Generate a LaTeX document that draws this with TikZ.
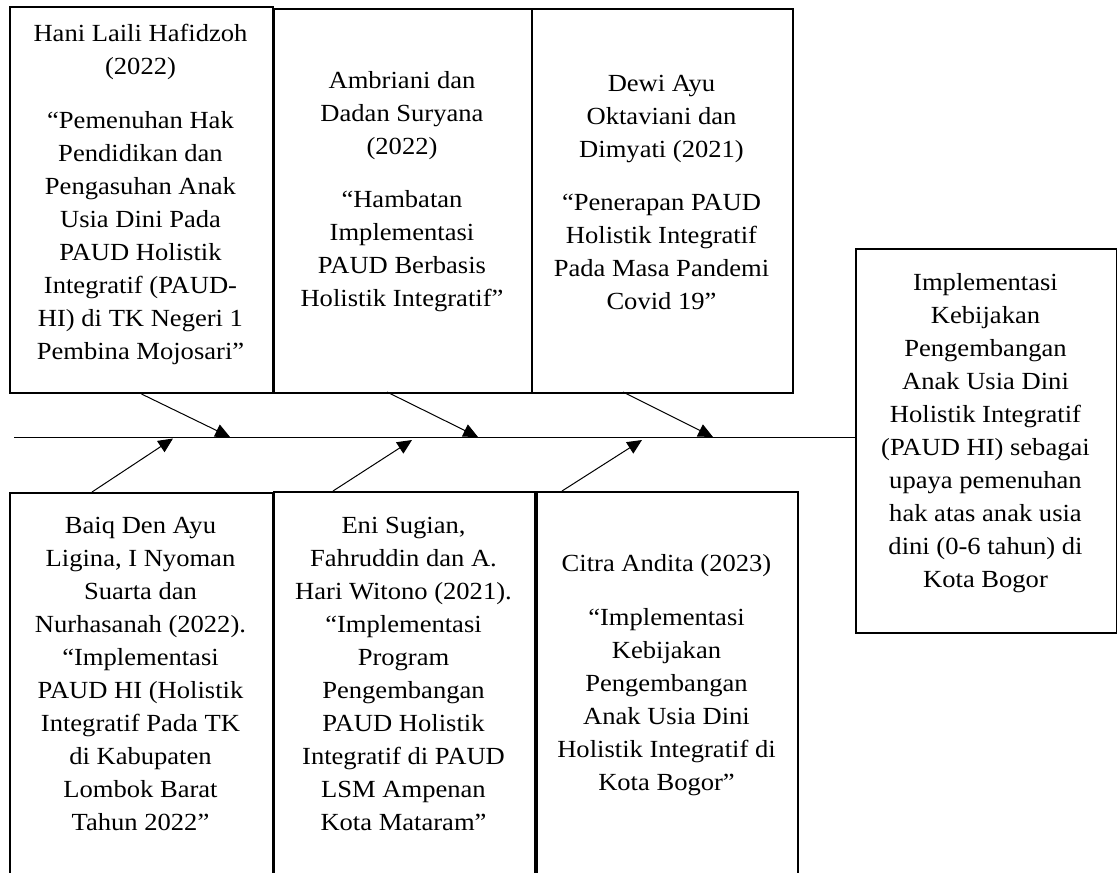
\documentclass[tikz,border=0pt]{standalone}
\usepackage{fontspec}
\setmainfont{Liberation Serif}[FakeStretch=1.08]
\usetikzlibrary{arrows.meta}
\begin{document}
\begin{tikzpicture}[x=0.75pt,y=-0.75pt,
  box/.style={draw,line width=1.5pt,rectangle,inner sep=0pt,anchor=north west},
  txt/.style={align=center,font=\fontsize{18.45pt}{24.75pt}\selectfont,inner sep=0pt},
  conn/.style={line width=0.75pt,-{Triangle[length=11pt,width=10pt]}},
  spine/.style={line width=0.75pt}
]
\useasboundingbox (0,0) rectangle (1117,872);
\clip (0,0) rectangle (1117,872);
% top boxes
\node[box,minimum width=263*0.75pt,minimum height=386*0.75pt] (b1) at (9,6) {};
\node[box,minimum width=258*0.75pt,minimum height=384*0.75pt] (b2) at (273,8) {};
\node[box,minimum width=261*0.75pt,minimum height=384*0.75pt] (b3) at (531,8) {};
% bottom boxes (cut by the page edge)
\node[box,minimum width=263*0.75pt,minimum height=420*0.75pt] (c1) at (9,492) {};
\node[box,minimum width=261*0.75pt,minimum height=420*0.75pt] (c2) at (273,491) {};
\node[box,minimum width=261*0.75pt,minimum height=420*0.75pt] (c3) at (536,491) {};
% result box
\node[box,minimum width=261*0.75pt,minimum height=384*0.75pt] (r) at (855,248) {};
% texts
\node[txt] (t1) at (140.5,194.5) {Hani Laili Hafidzoh\\(2022)\\[15.5pt]“Pemenuhan Hak\\Pendidikan dan\\Pengasuhan Anak\\Usia Dini Pada\\PAUD Holistik\\Integratif (PAUD-\\HI) di TK Negeri 1\\Pembina Mojosari”};
\node[txt] (t2) at (402,192) {Ambriani dan\\Dadan Suryana\\(2022)\\[15pt]“Hambatan\\Implementasi\\PAUD Berbasis\\Holistik Integratif”};
\node[txt] (t3) at (661.5,192) {Dewi Ayu\\Oktaviani dan\\Dimyati (2021)\\[15pt]“Penerapan PAUD\\Holistik Integratif\\Pada Masa Pandemi\\Covid 19”};
\node[txt] (tr) at (985.5,433.5) {Implementasi\\Kebijakan\\Pengembangan\\Anak Usia Dini\\Holistik Integratif\\(PAUD HI) sebagai\\upaya pemenuhan\\hak atas anak usia\\dini (0-6 tahun) di\\Kota Bogor};
\node[txt] (u1) at (140.5,674) {Baiq Den Ayu\\Ligina, I Nyoman\\Suarta dan\\Nurhasanah (2022).\\“Implementasi\\PAUD HI (Holistik\\Integratif Pada TK\\di Kabupaten\\Lombok Barat\\Tahun 2022”};
\node[txt] (u2) at (403.5,674) {Eni Sugian,\\Fahruddin dan A.\\Hari Witono (2021).\\“Implementasi\\Program\\Pengembangan\\PAUD Holistik\\Integratif di PAUD\\LSM Ampenan\\Kota Mataram”};
\node[txt] (u3) at (666.5,675) {Citra Andita (2023)\\[15.5pt]“Implementasi\\Kebijakan\\Pengembangan\\Anak Usia Dini\\Holistik Integratif di\\Kota Bogor”};
% spine
\coordinate (sL) at (14,437);
\draw[spine] (sL) -- (sL -| r.west);
% arrow ends
\coordinate (a2s) at (387,392);
\coordinate (a3s) at (623,392);
\coordinate (a1t) at (230,437);
\coordinate (a2t) at (478,437);
\coordinate (a3t) at (713,437);
\coordinate (d1s) at (92,492);
\coordinate (d2s) at (333,491);
\coordinate (d3s) at (562,491);
\coordinate (d1t) at (173,438.5);
\coordinate (d2t) at (412,440);
\coordinate (d3t) at (642,440);
\draw[conn] (b1.south) -- (a1t);
\draw[conn] (a2s) -- (a2t);
\draw[conn] (a3s) -- (a3t);
\draw[conn] (d1s) -- (d1t);
\draw[conn] (d2s) -- (d2t);
\draw[conn] (d3s) -- (d3t);
\end{tikzpicture}
\end{document}
